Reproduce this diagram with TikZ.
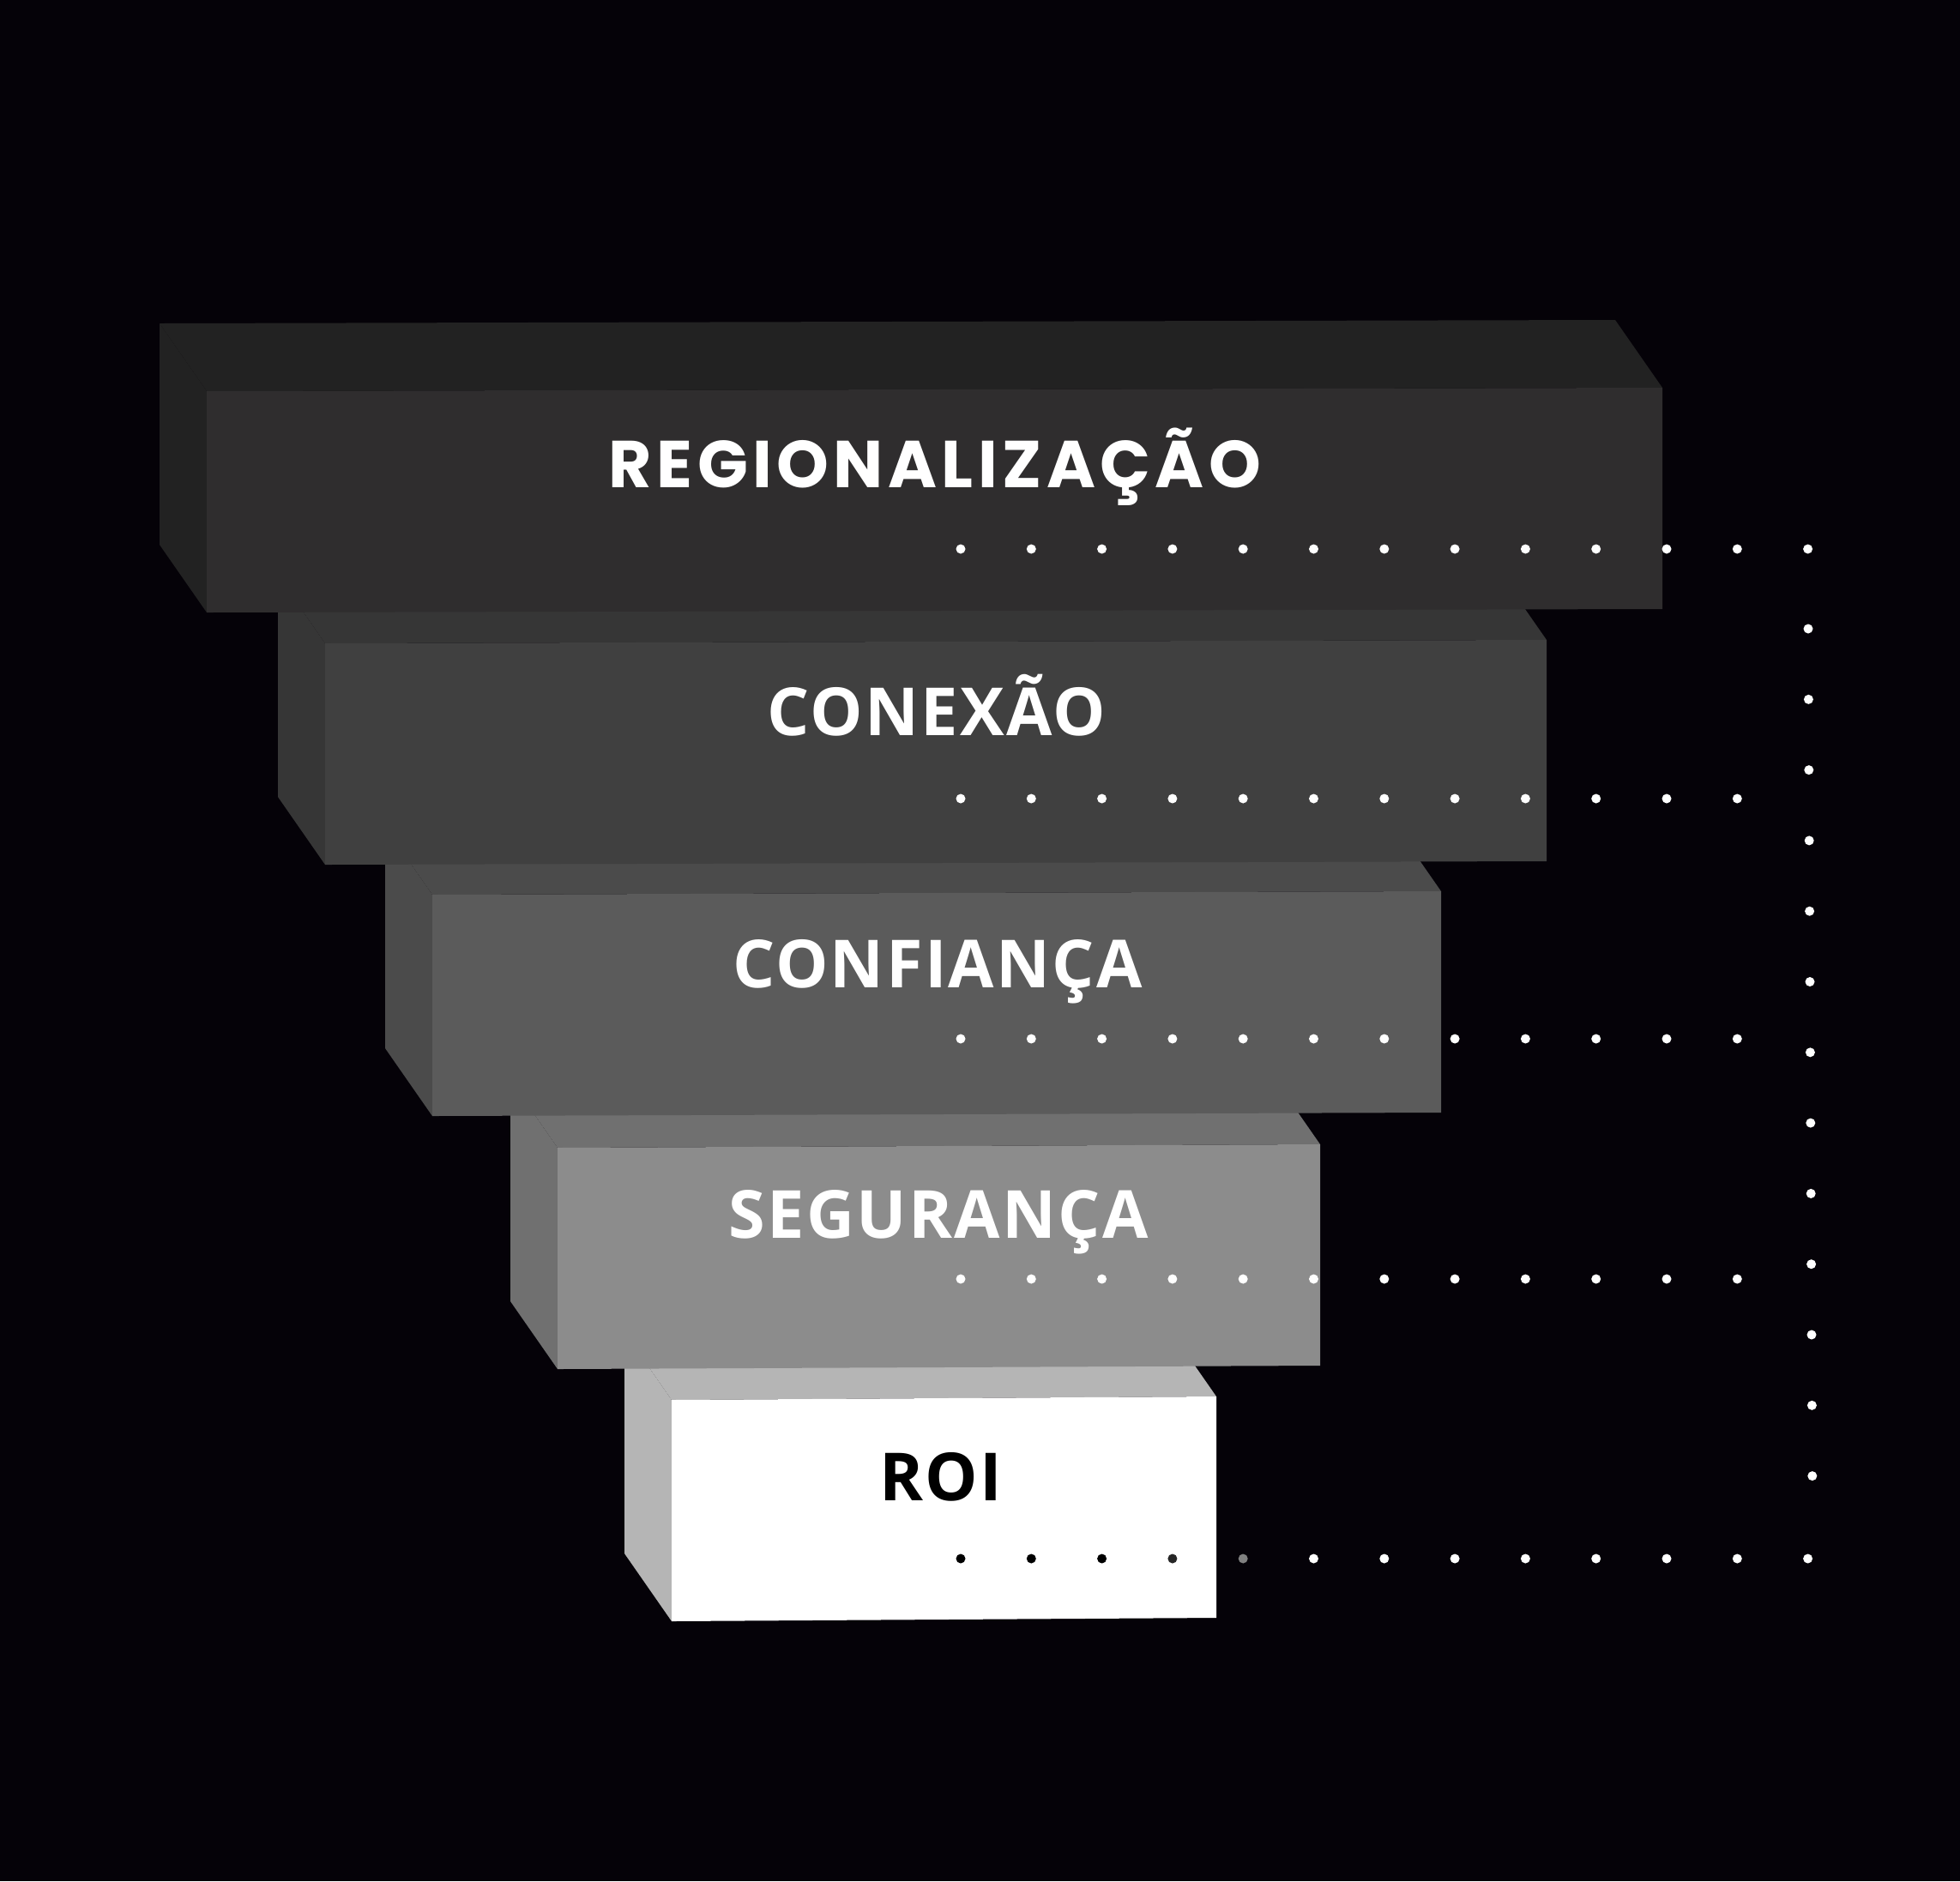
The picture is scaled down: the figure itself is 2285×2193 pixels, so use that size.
\documentclass[tikz,border=0pt]{standalone}
\usepackage{fontspec}
\setmainfont{Open Sans}[LetterSpace=3]
\newfontfamily\regfont{Poppins}[LetterSpace=7]
\usetikzlibrary{positioning}

\definecolor{bgdark}{HTML}{050208}
\definecolor{frontA}{HTML}{2F2D2E}
\definecolor{topA}{HTML}{222222}
\definecolor{frontB}{HTML}{404040}
\definecolor{topB}{HTML}{363636}
\definecolor{frontC}{HTML}{5B5B5B}
\definecolor{topC}{HTML}{4B4B4B}
\definecolor{frontD}{HTML}{8C8C8C}
\definecolor{topD}{HTML}{707070}
\definecolor{frontE}{HTML}{FFFFFF}
\definecolor{topE}{HTML}{B5B5B5}

\begin{document}
\begin{tikzpicture}[
    x=0.01cm, y=-0.01cm,
    stage/.style={
        font=\bfseries\fontsize{22}{26}\selectfont,
        text=white,
        anchor=base,
        inner sep=0pt
    },
    dotw/.style={fill=white}
]

% =============== FUNDO ===============
\fill[bgdark] (0,0) rectangle (2285,2193);
\useasboundingbox (0,0) rectangle (2285,2193);

% =============== BLOCOS DO FUNIL (de baixo para cima) ===============
\foreach \L/\R/\T/\fc/\tc in {
    783/1418/1632/frontE/topE,
    650/1539/1338/frontD/topD,
    504/1680/1043/frontC/topC,
    379/1803/750/frontB/topB,
    241/1938/456/frontA/topA}{
    % face de cima
    \fill[\tc] (\L,\T) -- (\R,\T-4) -- (\R-55,\T-83) -- (\L-55,\T-79) -- cycle;
    % face lateral
    \fill[\tc] (\L,\T) -- (\L,\T+258) -- (\L-55,\T+179) -- (\L-55,\T-79) -- cycle;
    % face da frente
    \fill[\fc] (\L,\T) -- (\R,\T-4) -- (\R,\T+254) -- (\L,\T+258) -- cycle;
}

% =============== RÓTULOS ===============
\node[stage] (lbl_regional) at (1090,568) {\regfont REGIONALIZAÇÃO};
\node[stage] (lbl_conexao) at (1092,857) {CONEXÃO};
\node[stage] (lbl_confianca) at (1093,1151) {CONFIANÇA};
\node[stage] (lbl_seguranca) at (1094,1443) {SEGURANÇA};
\node[stage, text=black] (lbl_roi) at (1097,1749) {ROI};

% =============== PONTILHADO ===============
% linhas horizontais
\foreach \i in {0,...,12}
    \fill[dotw] (1120+82.3*\i,640) circle[radius=0.055cm];
\foreach \y in {931,1211,1491}
    \foreach \i in {0,...,11}
        \fill[dotw] (1120+82.3*\i,\y) circle[radius=0.055cm];
\foreach \i/\c in {0/black,1/black,2/black,3/black!85!white,4/gray,5/white,
                   6/white,7/white,8/white,9/white,10/white,11/white,12/white}
    \fill[\c] (1120+82.3*\i,1817) circle[radius=0.055cm];

% coluna vertical
\foreach \k in {0,...,12}
    \fill[dotw] (2108+0.4*\k,733+82.3*\k) circle[radius=0.055cm];

\end{tikzpicture}
\end{document}
